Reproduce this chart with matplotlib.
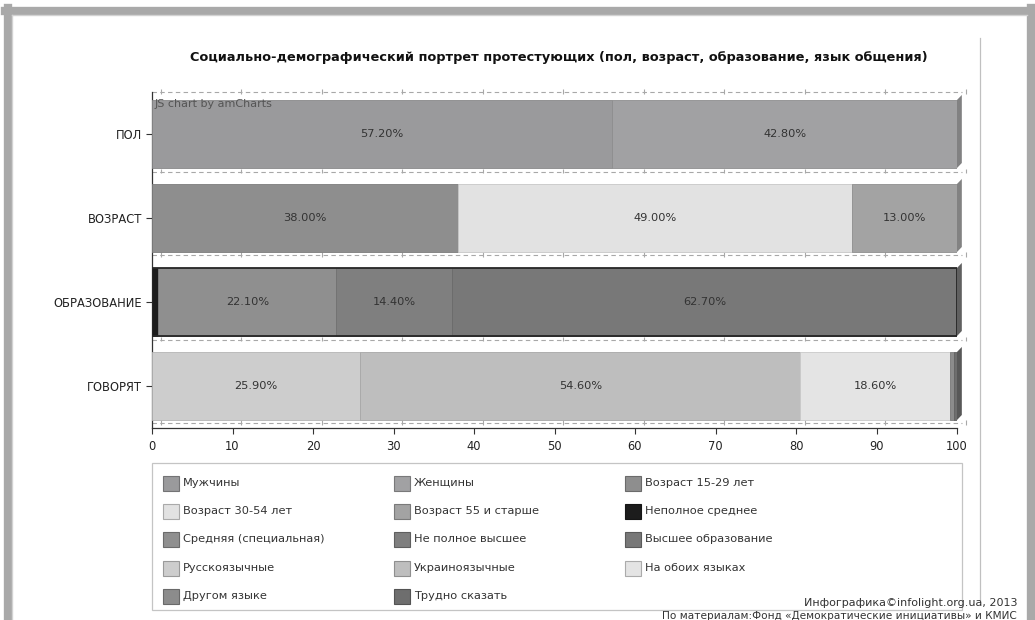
import matplotlib.pyplot as plt
import matplotlib.colors as mcolors
import numpy as np
from matplotlib.lines import Line2D
from matplotlib.patches import Polygon, Rectangle

categories = ["ПОЛ", "ВОЗРАСТ", "ОБРАЗОВАНИЕ", "ГОВОРЯТ"]

sex_labels = ["Мужчины", "Женщины"]
sex_values = [57.2, 42.8]
age_labels = ["Возраст 15-29 лет", "Возраст 30-54 лет", "Возраст 55 и старше"]
age_values = [38.0, 49.0, 13.0]
edu_labels = ["Неполное среднее", "Средняя (специальная)", "Не полное высшее", "Высшее образование"]
edu_values = [0.8, 22.1, 14.4, 62.7]
lang_labels = ["Русскоязычные", "Украиноязычные", "На обоих языках", "Другом языке", "Трудно сказать"]
lang_values = [25.9, 54.6, 18.6, 0.5, 0.4]

title = "Социально-демографический портрет протестующих (пол, возраст, образование, язык общения)"
credit = "Инфографика©infolight.org.ua, 2013"
source = "По материалам:Фонд «Демократические инициативы» и КМИС"

groups = [
    (sex_labels, sex_values, ["#9a9a9c", "#a1a1a3"]),
    (age_labels, age_values, ["#8e8e8e", "#e2e2e2", "#a3a3a3"]),
    (edu_labels, edu_values, ["#1c1c1c", "#8f8f8f", "#7f7f7f", "#787878"]),
    (lang_labels, lang_values, ["#cdcdcd", "#bebebe", "#e4e4e4", "#8c8c8c", "#6e6e6e"]),
]
row_outline = [None, None, "#262626", None]

W, H = 1035, 620


def shade(color, f):
    r, g, b = mcolors.to_rgb(color)
    return (r * f, g * f, b * f)


plt.rcParams.update({"font.family": "DejaVu Sans", "font.size": 8})

fig = plt.figure(figsize=(W / 100, H / 100), dpi=100)
fig.patch.set_facecolor("white")
ax = fig.add_axes([152 / W, 1 - 428 / H, 805 / W, (428 - 92) / H])

bar_h = 0.81
for i, (labels, values, colors) in enumerate(groups):
    left = 0.0
    for lab, v, c in zip(labels, values, colors):
        ax.barh(i, v, left=left, height=bar_h, color=c, edgecolor=shade(c, 0.88), linewidth=0.6, zorder=3)
        if v >= 5:
            ax.text(left + v / 2, i, f"{v:.2f}%", ha="center", va="center", fontsize=8.2, color="#333333", zorder=5)
        left += v
    # 3D side face on the right end
    top, bot = i - bar_h / 2, i + bar_h / 2
    side = Polygon([(left, bot), (left, top), (left + 0.6, top - 0.06), (left + 0.6, bot - 0.06)],
                   closed=True, facecolor=shade(colors[-1], 0.8), edgecolor="none", zorder=2, clip_on=False)
    ax.add_patch(side)
    if row_outline[i]:
        ax.barh(i, left, height=bar_h, fill=False, edgecolor=row_outline[i], linewidth=1.3, zorder=4)

# dashed 3D grid lines between the rows
xt = np.arange(0, 101, 10)
for yl in [-0.5, 0.45, 1.44, 2.45, 3.44]:
    ax.plot([0, 100.6], [yl, yl], color="#a8a8a8", lw=0.8, ls=(0, (4, 3)), zorder=1, clip_on=False)
    ax.vlines(xt + 1.1, yl - 0.035, yl + 0.02, color="#a8a8a8", lw=0.8, zorder=1, clip_on=False)

ax.set_xlim(0, 100)
ax.set_ylim(3.5, -0.5)
ax.set_xticks(xt)
ax.set_yticks(range(len(categories)))
ax.set_yticklabels(categories)
ax.tick_params(axis="both", length=4, width=0.8, color="#333333", labelcolor="#222222", labelsize=8.3)
ax.tick_params(axis="x", pad=5)
ax.tick_params(axis="y", pad=3)
for side_name in ["top", "right"]:
    ax.spines[side_name].set_visible(False)
for side_name in ["left", "bottom"]:
    ax.spines[side_name].set_color("#333333")
    ax.spines[side_name].set_linewidth(0.9)
ax.set_facecolor("none")

ax.text(0.3, -0.42, "JS chart by amCharts", fontsize=8, color="#555555", va="top", ha="left", zorder=6)

fig.text(559 / W, 1 - 58 / H, title, ha="center", va="center", fontsize=9.25, fontweight="bold", color="#111111")

# legend box, drawn row by row
fig.add_artist(Rectangle((152 / W, 1 - 610 / H), (962 - 152) / W, (610 - 463) / H,
                         transform=fig.transFigure, facecolor="white", edgecolor="#c4c4c4", lw=0.9))
names = [n for g in groups for n in g[0]]
fills = [c for g in groups for c in g[2]]
for k, (name, c) in enumerate(zip(names, fills)):
    row, col = divmod(k, 3)
    x0 = 163 + col * 231
    yc = 483 + row * 28.2
    fig.add_artist(Rectangle((x0 / W, 1 - (yc + 8) / H), 16 / W, 15 / H, transform=fig.transFigure,
                             facecolor=c, edgecolor=shade(c, 0.75), lw=0.8))
    fig.text((x0 + 20) / W, 1 - yc / H, name, ha="left", va="center", fontsize=8.2, color="#333333")

fig.text(1017 / W, 1 - 603 / H, credit, ha="right", va="center", fontsize=8, color="#333333")
fig.text(1017 / W, 1 - 616 / H, source, ha="right", va="center", fontsize=7.6, color="#333333")

# page frame
frame = "#a9a9a9"
fig.add_artist(Line2D([8 / W, 8 / W], [0, 1 - 8 / H], color=frame, lw=6, transform=fig.transFigure))
fig.add_artist(Line2D([1031 / W, 1031 / W], [0, 1 - 8 / H], color=frame, lw=6, transform=fig.transFigure))
fig.add_artist(Line2D([5 / W, 1035 / W], [1 - 11 / H, 1 - 11 / H], color=frame, lw=6, transform=fig.transFigure))
fig.add_artist(Line2D([12 / W, 1027 / W], [1 - 14.5 / H, 1 - 14.5 / H], color="#d2d2d2", lw=1, transform=fig.transFigure))
fig.add_artist(Line2D([12 / W, 12 / W], [0, 1 - 14.5 / H], color="#d2d2d2", lw=1, transform=fig.transFigure))
fig.add_artist(Line2D([980 / W, 980 / W], [1 - 600 / H, 1 - 38 / H], color="#c0c0c0", lw=0.9, transform=fig.transFigure))

fig.savefig("out.png", dpi=100)
